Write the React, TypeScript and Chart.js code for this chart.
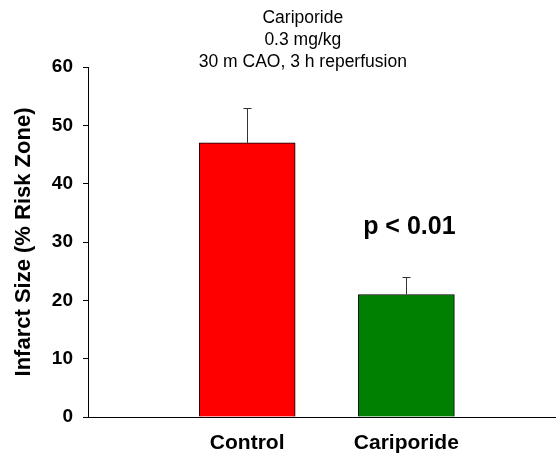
import React, { useEffect, useRef } from "react";
import { Chart, registerables } from "chart.js";

Chart.register(...registerables);

const categories = ["Control", "Cariporide"];
const categoryPositions = [1, 2];
const values = [47, 21];
const errors = [6, 3];
const barColors = ["#ff0000", "#008000"];
const titleLines = ["Cariporide", "0.3 mg/kg", "30 m CAO, 3 h reperfusion"];
const yTicks = [0, 10, 20, 30, 40, 50, 60];
const annotationText = "p < 0.01";
const annotationValue = 32.5;
const yAxisTitle = "Infarct Size (% Risk Zone)";

const FONT = "'Liberation Sans', Arial, Helvetica, sans-serif";

const errorBarPlugin = {
  id: "errorBars",
  afterDatasetsDraw(chart: any) {
    const ctx = chart.ctx;
    const meta = chart.getDatasetMeta(0);
    const yScale = chart.scales.y;
    ctx.save();
    ctx.strokeStyle = "#333333";
    ctx.lineWidth = 1;
    meta.data.forEach((bar: any, i: number) => {
      const x = Math.round(bar.x) + 0.5;
      const yTop = yScale.getPixelForValue(values[i] + errors[i]);
      const yBar = yScale.getPixelForValue(values[i]);
      ctx.beginPath();
      ctx.moveTo(x, yBar);
      ctx.lineTo(x, Math.round(yTop) + 0.5);
      ctx.moveTo(x - 4, Math.round(yTop) + 0.5);
      ctx.lineTo(x + 4, Math.round(yTop) + 0.5);
      ctx.stroke();
    });
    ctx.restore();
  },
};

const textPlugin = {
  id: "texts",
  afterDraw(chart: any) {
    const ctx = chart.ctx;
    const area = chart.chartArea;
    ctx.save();
    ctx.fillStyle = "#000";
    ctx.textAlign = "center";
    ctx.textBaseline = "middle";
    ctx.font = `17.5px ${FONT}`;
    const cx = area.left + (area.right - area.left) * 0.459;
    titleLines.forEach((line, i) => {
      ctx.fillText(line, cx, 18 + i * 22);
    });
    ctx.font = `bold 25px ${FONT}`;
    const px = chart.scales.x.getPixelForValue(categoryPositions[1]);
    const py = chart.scales.y.getPixelForValue(annotationValue);
    ctx.fillText(annotationText, px + 3, py);
    ctx.restore();
  },
};

export default function App() {
  const ref = useRef<HTMLCanvasElement>(null);
  useEffect(() => {
    if (!ref.current) return;
    const chart = new Chart(ref.current, {
      type: "bar",
      data: {
        datasets: [
          {
            data: categoryPositions.map((x, i) => ({ x, y: values[i] })),
            backgroundColor: barColors,
            borderColor: "#000",
            borderWidth: 1,
            barThickness: 96,
          } as any,
        ],
      },
      options: {
        animation: false,
        responsive: false,
        maintainAspectRatio: false,
        layout: { padding: { top: 67, right: 0, bottom: 0, left: 0 } },
        plugins: {
          legend: { display: false },
          tooltip: { enabled: false },
          title: { display: false },
        },
        scales: {
          x: {
            type: "linear",
            min: 0,
            max: 2.94,
            offset: false,
            grid: { display: false, drawTicks: false, offset: false },
            border: { display: true, color: "#000", width: 1 },
            afterBuildTicks: (scale: any) => {
              scale.ticks = categoryPositions.map((v) => ({ value: v }));
            },
            afterFit: (scale: any) => {
              scale.height = 38;
            },
            ticks: {
              autoSkip: false,
              maxRotation: 0,
              padding: 14,
              color: "#000",
              font: { family: FONT, size: 21, weight: "bold" },
              callback: (v: any) => categories[categoryPositions.indexOf(Number(v))] ?? "",
            },
          },
          y: {
            min: 0,
            max: 60,
            afterBuildTicks: (scale: any) => {
              scale.ticks = yTicks.map((v) => ({ value: v }));
            },
            afterFit: (scale: any) => {
              scale.width = 88;
            },
            grid: {
              drawOnChartArea: false,
              drawTicks: true,
              tickLength: 5,
              color: "#000",
            },
            border: { display: true, color: "#000", width: 1 },
            ticks: {
              padding: 10,
              color: "#000",
              font: { family: FONT, size: 19, weight: "bold" },
            },
            title: {
              display: true,
              text: yAxisTitle,
              color: "#000",
              padding: { top: 11, bottom: 0 },
              font: { family: FONT, size: 22, weight: "bold" },
            },
          },
        },
      } as any,
      plugins: [errorBarPlugin, textPlugin],
    });
    return () => chart.destroy();
  }, []);
  return (
    <div style={{ position: "fixed", left: 0, top: 0, width: 556, height: 455, background: "#fff" }}>
      <canvas ref={ref} width={556} height={455} style={{ width: 556, height: 455 }} />
    </div>
  );
}
